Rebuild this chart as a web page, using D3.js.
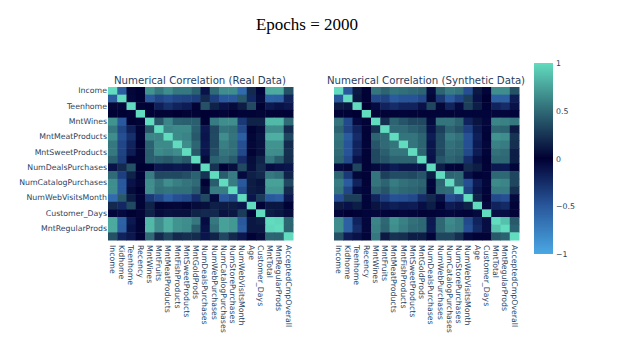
<!DOCTYPE html>
<html lang="en">
<head>
  <meta charset="UTF-8">
  <title>Epochs = 2000</title>
  <script src="https://d3js.org/d3.v7.min.js"></script>
  <style>
    html, body { margin: 0; padding: 0; background: #fff; }
    svg { display: block; }
    .tick text { font-family: "DejaVu Sans", sans-serif; font-size: 7.8px; fill: #2a3f5f; }
    .axis path, .axis line { display: none; }
  </style>
</head>
<body>
  <svg width="623" height="358"></svg>
<script>
var features = ["Income","Kidhome","Teenhome","Recency","MntWines","MntFruits","MntMeatProducts","MntFishProducts","MntSweetProducts","MntGoldProds","NumDealsPurchases","NumWebPurchases","NumCatalogPurchases","NumStorePurchases","NumWebVisitsMonth","Age","Customer_Days","MntTotal","MntRegularProds","AcceptedCmpOverall"];
var yLabels = ["Income","Teenhome","MntWines","MntMeatProducts","MntSweetProducts","NumDealsPurchases","NumCatalogPurchases","NumWebVisitsMonth","Customer_Days","MntRegularProds"];
var barTicks = [1, 0.5, 0, -0.5, -1];

// row by row
var realCorr = [
  [1,-.53,.03,.01,.68,.56,.66,.56,.56,.46,-.11,.5,.66,.66,-.62,.2,-.03,.78,.78,.38],
  [-.53,1,-.04,.01,-.5,-.4,-.45,-.4,-.38,-.35,.2,-.36,-.5,-.5,.42,-.23,-.05,-.56,-.55,-.2],
  [.03,-.04,1,.02,.01,-.18,-.27,-.2,-.16,.02,.38,.16,-.11,.05,.13,.35,.01,-.14,-.1,-.13],
  [.01,.01,.02,1,.02,.02,.02,0,.02,.02,0,-.01,.03,0,-.02,.02,.03,.02,.02,-.01],
  [.68,-.5,.01,.02,1,.42,.62,.46,.45,.45,.01,.58,.66,.66,-.32,.16,.16,.84,.84,.5],
  [.56,-.4,-.18,.02,.42,1,.62,.64,.64,.45,-.13,.34,.55,.52,-.42,.02,.06,.66,.66,.2],
  [.66,-.45,-.27,.02,.62,.62,1,.64,.61,.42,-.12,.35,.66,.55,-.54,.03,.09,.8,.8,.33],
  [.56,-.4,-.2,0,.46,.64,.64,1,.65,.48,-.14,.34,.59,.52,-.45,.04,.08,.68,.68,.2],
  [.56,-.38,-.16,.02,.45,.64,.61,.65,1,.42,-.12,.37,.55,.52,-.42,.02,.08,.66,.65,.22],
  [.46,-.35,.02,.02,.45,.45,.42,.48,.42,1,.05,.46,.5,.43,-.25,.06,.16,.56,.44,.21],
  [-.11,.2,.38,0,.01,-.13,-.12,-.14,-.12,.05,1,.24,-.01,.07,.35,.07,.2,-.07,-.1,-.12],
  [.5,-.36,.16,-.01,.58,.34,.35,.34,.37,.46,.24,1,.44,.58,-.05,.15,.19,.56,.52,.17],
  [.66,-.5,-.11,.03,.66,.55,.66,.59,.55,.5,-.01,.44,1,.58,-.5,.13,.09,.74,.74,.34],
  [.66,-.5,.05,0,.66,.52,.55,.52,.52,.43,.07,.58,.58,1,-.43,.13,.11,.7,.7,.2],
  [-.62,.42,.13,-.02,-.32,-.42,-.54,-.45,-.42,-.25,.35,-.05,-.5,-.43,1,-.12,.28,-.5,-.53,-.13],
  [.2,-.23,.35,.02,.16,.02,.03,.04,.02,.06,.07,.15,.13,.13,-.12,1,-.02,.11,.11,-.01],
  [-.03,-.05,.01,.03,.16,.06,.09,.08,.08,.16,.2,.19,.09,.11,.28,-.02,1,.14,.11,.05],
  [.78,-.56,-.14,.02,.84,.66,.8,.68,.66,.56,-.07,.56,.74,.7,-.5,.11,.14,1,.98,.48],
  [.78,-.55,-.1,.02,.84,.66,.8,.68,.65,.44,-.1,.52,.74,.7,-.53,.11,.11,.98,1,.47],
  [.38,-.2,-.13,-.01,.5,.2,.33,.2,.22,.21,-.12,.17,.34,.2,-.13,-.01,.05,.48,.47,1]
];

// row by row
var synthCorr = [
  [1,-.5,.12,-.01,.55,.47,.55,.52,.5,.47,-.06,.47,.58,.55,-.45,.12,-.03,.66,.66,.38],
  [-.5,1,.1,-.01,-.42,-.38,-.52,-.48,-.48,-.42,.03,-.32,-.52,-.4,.3,-.1,0,-.55,-.55,-.16],
  [.12,.1,1,0,-.06,-.2,-.25,-.2,-.2,-.1,.33,.04,-.2,-.06,.3,.14,-.01,-.2,-.25,-.1],
  [-.01,-.01,0,1,-.02,-.02,-.02,-.03,-.02,-.02,-.02,-.02,-.02,-.03,-.03,-.03,-.03,-.04,-.04,-.03],
  [.55,-.42,-.06,-.02,1,.22,.47,.4,.34,.34,-.05,.55,.55,.47,-.2,.1,-.04,.62,.6,.56],
  [.47,-.38,-.2,-.02,.22,1,.5,.5,.45,.4,-.1,.3,.47,.4,-.36,-.14,-.03,.49,.47,.12],
  [.55,-.52,-.25,-.02,.47,.5,1,.55,.55,.47,-.16,.36,.58,.53,-.46,-.18,-.02,.68,.66,.24],
  [.52,-.48,-.2,-.03,.4,.5,.55,1,.55,.47,-.12,.36,.53,.49,-.45,-.15,-.04,.6,.58,.22],
  [.5,-.48,-.2,-.02,.34,.45,.55,.55,1,.47,-.12,.34,.5,.47,-.42,-.16,-.03,.53,.51,.14],
  [.47,-.42,-.1,-.02,.34,.4,.47,.47,.47,1,-.1,.4,.47,.43,-.26,-.08,-.01,.49,.49,.14],
  [-.06,.03,.33,-.02,-.05,-.1,-.16,-.12,-.12,-.1,1,.14,-.03,-.02,.2,.14,-.02,-.14,-.15,-.03],
  [.47,-.32,.04,-.02,.55,.3,.36,.36,.34,.4,.14,1,.47,.49,-.1,-.01,-.03,.49,.49,.33],
  [.58,-.52,-.2,-.02,.55,.47,.58,.53,.5,.47,-.03,.47,1,.51,-.45,-.16,-.04,.64,.62,.33],
  [.55,-.4,-.06,-.03,.47,.4,.53,.49,.47,.43,-.02,.49,.51,1,-.38,-.12,-.03,.58,.58,.22],
  [-.45,.3,.3,-.03,-.2,-.36,-.46,-.45,-.42,-.26,.2,-.1,-.45,-.38,1,.16,-.02,-.42,-.45,-.05],
  [.12,-.1,.14,-.03,.1,-.14,-.18,-.15,-.16,-.08,.14,-.01,-.16,-.12,.16,1,-.05,-.2,-.24,-.02],
  [-.03,0,-.01,-.03,-.04,-.03,-.02,-.04,-.03,-.01,-.02,-.03,-.04,-.03,-.02,-.05,1,-.08,-.08,-.02],
  [.66,-.55,-.2,-.04,.62,.49,.68,.6,.53,.49,-.14,.49,.64,.58,-.42,-.2,-.08,1,.88,.42],
  [.66,-.55,-.25,-.04,.6,.47,.66,.58,.51,.49,-.15,.49,.62,.58,-.45,-.24,-.08,.88,1,.46],
  [.38,-.16,-.1,-.03,.56,.12,.24,.22,.14,.14,-.03,.33,.33,.22,-.05,-.02,-.02,.42,.46,1]
];

var svg = d3.select("svg");

var color = d3.scaleLinear()
  .domain([-1, -0.5, 0, 0.5, 1])
  .range(["#4aa8e4", "#29589c", "#000033", "#2f6a76", "#62dcbf"]);

function drawHeatmap(matrix, left, title, showY) {
  var x = d3.scaleBand().domain(features).range([left, left + 185]);
  var y = d3.scaleBand().domain(features).range([87, 240]);

  var rows = svg.append("g").selectAll("g")
    .data(matrix)
    .enter().append("g");

  rows.selectAll("rect")
    .data(function(row, i) {
      return row.map(function(v, j) { return {r: features[i], c: features[j], v: v}; });
    })
    .enter().append("rect")
    .attr("x", function(d) { return x(d.c); })
    .attr("y", function(d) { return y(d.r); })
    .attr("width", x.bandwidth() + 0.5)
    .attr("height", y.bandwidth() + 0.5)
    .attr("fill", function(d) { return color(d.v); });

  var xAxis = svg.append("g")
    .attr("class", "axis")
    .attr("transform", "translate(0,240)")
    .call(d3.axisBottom(x).tickSize(0));
  xAxis.selectAll("text")
    .attr("transform", "rotate(90)")
    .attr("x", 5)
    .attr("y", 0)
    .attr("dy", "0.35em")
    .style("text-anchor", "start");

  if (showY) {
    svg.append("g")
      .attr("class", "axis")
      .attr("transform", "translate(" + left + ",0)")
      .call(d3.axisLeft(y).tickValues(yLabels).tickSize(0).tickPadding(1));
  }

  svg.append("text")
    .attr("x", left + 92)
    .attr("y", 84)
    .attr("text-anchor", "middle")
    .attr("font-family", "'DejaVu Sans', sans-serif")
    .attr("font-size", 10.2)
    .attr("fill", "#2a3f5f")
    .text(title);
}

drawHeatmap(realCorr, 108, "Numerical Correlation (Real Data)", true);
drawHeatmap(synthCorr, 334, "Numerical Correlation (Synthetic Data)", false);

// main title
svg.append("text")
  .attr("x", 307)
  .attr("y", 30)
  .attr("text-anchor", "middle")
  .attr("font-family", "'Liberation Serif', serif")
  .attr("font-size", 17)
  .attr("fill", "#000")
  .text("Epochs = 2000");

// colorbar
var barY = d3.scaleLinear().domain([-1, 1]).range([254, 63]);
var grad = svg.append("defs").append("linearGradient")
  .attr("id", "bar-grad")
  .attr("x1", 0).attr("x2", 0).attr("y1", 1).attr("y2", 0);
color.domain().forEach(function(v) {
  grad.append("stop")
    .attr("offset", (v + 1) / 2)
    .attr("stop-color", color(v));
});
svg.append("rect")
  .attr("x", 534)
  .attr("y", barY(1))
  .attr("width", 19)
  .attr("height", barY(-1) - barY(1))
  .attr("fill", "url(#bar-grad)");
svg.append("g")
  .attr("class", "axis")
  .attr("transform", "translate(553,0)")
  .call(d3.axisRight(barY).tickValues(barTicks).tickSize(0).tickPadding(3)
    .tickFormat(function(d) { return d3.format("")(d); }));
</script>
</body>
</html>
